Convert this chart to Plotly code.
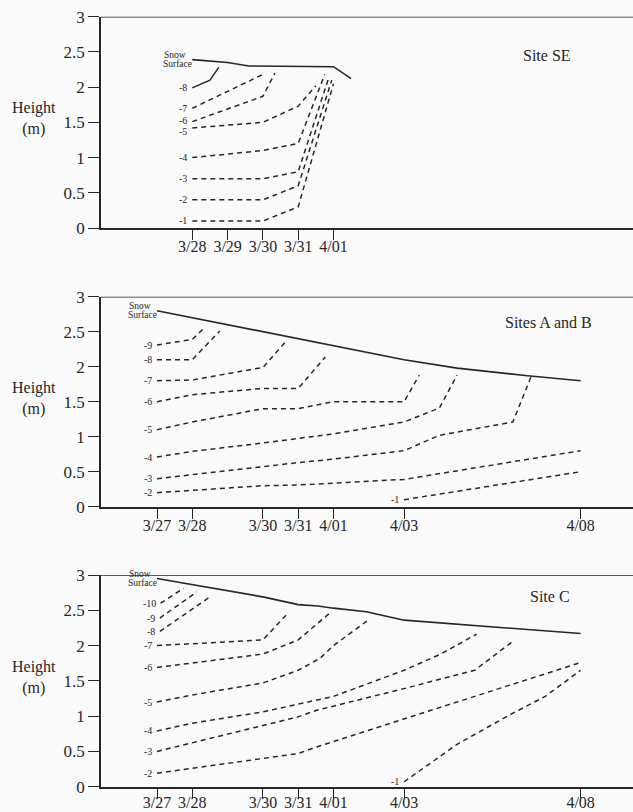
import plotly.graph_objects as go

# ---------------- data (x = days since 3/27, y = height in m) ----------------
HEIGHT_TICKS = [0, 0.5, 1, 1.5, 2, 2.5, 3]
SE_TICK_DAYS = [1, 2, 3, 4, 5]
SE_TICK_TEXT = ["3/28", "3/29", "3/30", "3/31", "4/01"]
AB_TICK_DAYS = [0, 1, 3, 4, 5, 7, 12]
AB_TICK_TEXT = ["3/27", "3/28", "3/30", "3/31", "4/01", "4/03", "4/08"]

# Site SE
se_snow_day = [1, 2, 2.6, 5, 5.5]
se_snow_h = [2.39, 2.35, 2.30, 2.29, 2.12]
se_levels = ["-1", "-2", "-3", "-4", "-5", "-6", "-7", "-8"]
se_days = [
    [1, 3, 4, 5.0],
    [1, 3, 4, 4.95],
    [1, 3, 4, 4.87],
    [1, 3, 4, 4.75],
    [1, 3, 4, 4.5],
    [1, 3, 3.34],
    [1, 3],
    [1, 1.5, 1.75],
]
se_heights = [
    [0.10, 0.10, 0.30, 2.05],
    [0.40, 0.40, 0.60, 2.10],
    [0.70, 0.70, 0.80, 2.14],
    [1.00, 1.10, 1.20, 2.18],
    [1.42, 1.50, 1.73, 2.02],
    [1.51, 1.87, 2.20],
    [1.70, 2.18],
    [1.99, 2.10, 2.28],
]

# Sites A and B
ab_snow_day = [0, 3, 5, 7, 8.5, 10.5, 12]
ab_snow_h = [2.80, 2.50, 2.31, 2.10, 1.98, 1.87, 1.80]
ab_levels = ["-1", "-2", "-3", "-4", "-5", "-6", "-7", "-8", "-9"]
ab_days = [
    [7, 12],
    [0, 1, 3, 4, 5, 7, 12],
    [0, 1, 3, 4, 5, 7, 8, 10.08, 10.6],
    [0, 1, 3, 4, 5, 7, 8, 8.5],
    [0, 1, 3, 4, 5, 7, 7.43],
    [0, 1, 3, 4, 4.77],
    [0, 1, 3, 3.65],
    [0, 1, 1.78],
    [0, 1, 1.35],
]
ab_heights = [
    [0.10, 0.50],
    [0.20, 0.23, 0.30, 0.31, 0.34, 0.39, 0.80],
    [0.40, 0.46, 0.58, 0.63, 0.68, 0.80, 1.02, 1.21, 1.86],
    [0.71, 0.79, 0.91, 0.98, 1.04, 1.21, 1.41, 1.88],
    [1.10, 1.21, 1.40, 1.40, 1.50, 1.50, 1.88],
    [1.50, 1.60, 1.69, 1.69, 2.14],
    [1.80, 1.81, 1.99, 2.36],
    [2.10, 2.10, 2.51],
    [2.31, 2.39, 2.56],
]

# Site C
c_snow_day = [0, 3, 4, 4.56, 5, 5.93, 7, 8.95, 12]
c_snow_h = [2.95, 2.69, 2.58, 2.56, 2.53, 2.48, 2.36, 2.29, 2.17]
c_levels = ["-1", "-2", "-3", "-4", "-5", "-6", "-7", "-8", "-9", "-10"]
c_days = [
    [7, 8.5, 10, 11, 12],
    [0, 1, 3, 4, 4.5, 7, 9, 12],
    [0, 1, 3, 4, 4.5, 7, 9, 10.08],
    [0, 1, 3, 4, 5, 7, 8, 9.05],
    [0, 1, 3, 4, 4.62, 5, 5.98],
    [0, 1, 3, 4, 4.62, 4.94],
    [0, 3, 3.73],
    [0.08, 1.5],
    [0.08, 1.13],
    [0.1, 0.75],
]
c_heights = [
    [0.07, 0.60, 1.02, 1.28, 1.65],
    [0.19, 0.26, 0.40, 0.47, 0.56, 0.96, 1.28, 1.76],
    [0.50, 0.62, 0.87, 0.99, 1.08, 1.39, 1.65, 2.06],
    [0.79, 0.90, 1.06, 1.17, 1.28, 1.65, 1.87, 2.16],
    [1.20, 1.30, 1.47, 1.65, 1.82, 2.00, 2.36],
    [1.69, 1.75, 1.88, 2.08, 2.34, 2.48],
    [2.00, 2.08, 2.47],
    [2.20, 2.69],
    [2.39, 2.76],
    [2.60, 2.81],
]

SITE_NAMES = ["Site SE", "Sites A and B", "Site C"]

# ---------------- figure ----------------
W, H = 633, 812
INK = "#262626"
BG = "#fafafa"
SERIF = "Liberation Serif"

panels = [
    dict(snow=(se_snow_day, se_snow_h), levels=se_levels, days=se_days, hts=se_heights,
         ticks=(SE_TICK_DAYS, SE_TICK_TEXT), top=16.7, bottom=228.0, site_xy=(11.05, 2.45),
         solid={"-8"}, nudge={"-6": 1, "-5": -4}, standoff=-7),
    dict(snow=(ab_snow_day, ab_snow_h), levels=ab_levels, days=ab_days, hts=ab_heights,
         ticks=(AB_TICK_DAYS, AB_TICK_TEXT), top=296.7, bottom=506.7, site_xy=(11.08, 2.63),
         solid=set(), nudge={}, standoff=-7),
    dict(snow=(c_snow_day, c_snow_h), levels=c_levels, days=c_days, hts=c_heights,
         ticks=(AB_TICK_DAYS, AB_TICK_TEXT), top=575.0, bottom=786.7, site_xy=(11.13, 2.69),
         solid=set(), nudge={}, standoff=-10),
]

X_LEFT_PX = 101.0
DAY0_PX = 157.0
PX_PER_DAY = 35.3
x_range = [(X_LEFT_PX - DAY0_PX) / PX_PER_DAY, (W - DAY0_PX) / PX_PER_DAY]

fig = go.Figure()
annotations = []
shapes = []
layout = {}

for i, p in enumerate(panels):
    n = "" if i == 0 else str(i + 1)
    xa, ya = "x" + n, "y" + n
    # isotherms
    for lev, d, h in zip(p["levels"], p["days"], p["hts"]):
        fig.add_trace(go.Scatter(
            x=d, y=h, mode="lines", xaxis=xa, yaxis=ya, showlegend=False,
            line=dict(color=INK, width=1.5,
                      dash="solid" if lev in p["solid"] else "5px,4px"),
            hoverinfo="skip"))
        annotations.append(dict(
            x=d[0], y=h[0], xref=xa, yref=ya, text=lev, showarrow=False,
            xanchor="right", yanchor="middle", xshift=-3, yshift=p["nudge"].get(lev, 0),
            font=dict(family=SERIF, size=10, color=INK)))
    # snow surface
    sd, sh = p["snow"]
    fig.add_trace(go.Scatter(
        x=sd, y=sh, mode="lines", xaxis=xa, yaxis=ya, showlegend=False,
        line=dict(color=INK, width=1.6), hoverinfo="skip"))
    annotations.append(dict(
        x=sd[0], y=sh[0], xref=xa, yref=ya, text="Snow", showarrow=False,
        xanchor="center", yanchor="middle", xshift=-17, yshift=5,
        font=dict(family=SERIF, size=9.5, color=INK)))
    annotations.append(dict(
        x=sd[0], y=sh[0], xref=xa, yref=ya, text="Surface", showarrow=False,
        xanchor="center", yanchor="middle", xshift=-15, yshift=-4,
        font=dict(family=SERIF, size=9.5, color=INK)))
    # site label
    annotations.append(dict(
        x=p["site_xy"][0], y=p["site_xy"][1], xref=xa, yref=ya, text=SITE_NAMES[i],
        showarrow=False, xanchor="center", yanchor="middle",
        font=dict(family=SERIF, size=16, color=INK)))
    # Height (m)
    annotations.append(dict(
        x=34 / W, y=1.55, xref="paper", yref=ya, text="Height<br>(m)", showarrow=False,
        xanchor="center", yanchor="middle", align="center",
        font=dict(family=SERIF, size=16, color=INK)))
    # top border of the frame
    shapes.append(dict(type="line", xref=xa + " domain", x0=0, x1=1, yref=ya, y0=3, y1=3,
                       line=dict(color=INK, width=1.6)))

    layout["xaxis" + n] = dict(
        domain=[X_LEFT_PX / W, 1], range=x_range, anchor=ya,
        tickmode="array", tickvals=p["ticks"][0], ticktext=p["ticks"][1],
        ticks="outside", ticklen=10, tickwidth=1.3, tickcolor=INK,
        showline=True, linecolor=INK, linewidth=1.6, showgrid=False, zeroline=False,
        tickfont=dict(family=SERIF, size=16, color=INK), ticklabelstandoff=p["standoff"])
    layout["yaxis" + n] = dict(
        domain=[1 - p["bottom"] / H, 1 - p["top"] / H], range=[0, 3], anchor=xa,
        tickmode="array", tickvals=HEIGHT_TICKS,
        ticks="outside", ticklen=11, tickwidth=1.3, tickcolor=INK,
        showline=True, linecolor=INK, linewidth=1.6, showgrid=False, zeroline=False,
        tickfont=dict(family=SERIF, size=17, color=INK))

fig.update_layout(
    width=W, height=H, margin=dict(l=0, r=0, t=0, b=0, autoexpand=False),
    paper_bgcolor=BG, plot_bgcolor=BG,
    annotations=annotations, shapes=shapes, **layout)

fig.write_html("out.html")
